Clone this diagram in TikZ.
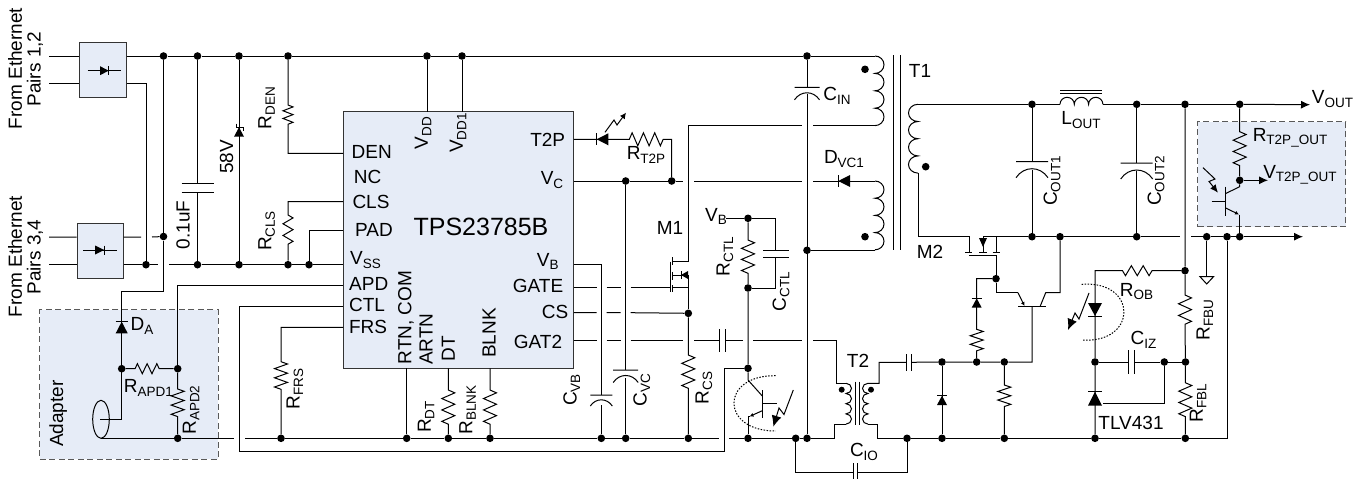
\documentclass[tikz,border=0pt]{standalone}
\usepackage{fontspec}
\setmainfont{Liberation Sans}
\usetikzlibrary{arrows.meta,decorations.pathmorphing}

\definecolor{panelblue}{HTML}{E6ECF7}
\newcommand{\sublabel}[2]{#1\raisebox{-3.5pt}{\fontsize{13.5}{13.5}\selectfont #2}}
% x, plate y, half width
\newcommand{\capcurved}[3]{
  \draw[wire] ({#1-#3},#2) -- ({#1+#3},#2)
    ({#1-#3},{#2+#3}) .. controls ({#1-#3*0.5},{#2+#3*0.25}) and ({#1+#3*0.5},{#2+#3*0.25}) .. ({#1+#3},{#2+#3});
}
% x, apex y, base y, half width
\newcommand{\diodev}[4]{
  \fill (#1,#2) -- ({#1-#4},#3) -- ({#1+#4},#3) -- cycle;
  \draw[wire] ({#1-#4},#2) -- ({#1+#4},#2);
}
% y, apex x, base x, half width
\newcommand{\diodeh}[4]{
  \fill (#2,#1) -- (#3,{#1-#4}) -- (#3,{#1+#4}) -- cycle;
  \draw[wire] (#2,{#1-#4}) -- (#2,{#1+#4});
}

\begin{document}
\begin{tikzpicture}[
  x=1pt,y=-1pt,
  >={Latex[length=9pt,width=8pt]},
  wire/.style={line width=1pt,line join=miter},
  zz/.style={decoration={zigzag,segment length=#1,amplitude=6.5pt}},
  zzs/.style={decoration={zigzag,segment length=#1,amplitude=5pt}},
  jdot/.style={circle,fill=black,inner sep=0pt,minimum size=7.6pt},
  chip/.style={draw=black!80,fill=panelblue,line width=1pt,inner sep=0pt},
  adapterbox/.style={draw=black!65,fill=panelblue,line width=1pt,dash pattern=on 6pt off 3.5pt,inner sep=0pt},
  lbl/.style={inner sep=0pt,font=\fontsize{19}{21}\selectfont},
  rotlbl/.style={lbl,rotate=90},
  bigzap/.style={line width=1pt,-{Latex[length=10pt,width=9pt]}},
  tinytip/.style={line width=1pt,-{Latex[length=4pt,width=4pt]}},
  arcdots/.style={line width=1pt,dash pattern=on 1.5pt off 1.5pt}
]
\useasboundingbox (0,0) rectangle (1361,479);

% panels
\node[chip,minimum width=47pt,minimum height=55pt] (bra) at (102.5,69.5) {};
\node[chip,minimum width=46pt,minimum height=55pt] (brb) at (100,250.5) {};
\node[chip,minimum width=229.6pt,minimum height=256.6pt] (tps) at (458.5,240) {};
\node[adapterbox,minimum width=178.3pt,minimum height=149.3pt] (adapter) at (129.1,384.6) {};
\node[adapterbox,minimum width=148pt,minimum height=105pt] (t2pout) at (1271.7,174.2) {};

% junctions
\foreach \name/\x/\y in {
  t1/163.5/56,t2/197.5/56,t3/239/56,t4/288/56,t5/427/56,t6/462/56,t7/807/56,
  n1/163.5/236.5,v0/146/264.7,v2/197.5/264.7,v3/239/264.7,v4/288/264.7,v5/309/264.7,
  a1/121.7/368.7,a2/177.7/368.7,a3/177.7/438.3,
  g1/281/438.3,g2/406.7/438.3,g3/448.3/438.3,g4/490/438.3,g5/601.3/438.3,g6/625.7/438.3,
  g7/688.3/438.3,g8/748/438.3,g9/795.7/438.3,g10/807/438.3,g11/907/438.3,g12/942/438.3,
  g13/1004.3/438.3,g14/1095/438.3,g15/1185.3/438.3,
  c1/625.7/181,c2/671.7/181,d1/688.3/313.3,
  b1/748/218.3,b2/748/288,b3/748/368.3,f1/807/250.3,
  s1/942/362,s2/976.7/362,s3/1004.3/362,m1/996/278.7,
  o1/1032/104.3,o2/1136.7/104.3,o3/1185/104.3,o4/1239.7/104.3,
  r1/1032/236.7,r2/1060/236.7,r3/1136.7/236.7,r4/1206.7/236.7,r5/1227/236.7,r6/1239.7/236.7,
  w1/1239.7/180.3,k1/1185/270.7,k2/1095/362,k3/1164.3/362,k4/1185.5/362}
  \node[jdot] (\name) at (\x,\y) {};

% pins of the controller
\foreach \p/\y in {den/153.3,cls/201.7,pad/230,vss/264.7,apd/285.7,ctl/306.7,frs/327.3}
  \coordinate (p\p) at (tps.west |- 0,\y);
\foreach \p/\y in {tp/139.3,vc/181,vb/264.3,gate/287.7,cs/312.7,gat/340.7}
  \coordinate (p\p) at (tps.east |- 0,\y);

% bridges and input
\draw[wire] (49,56) -- (bra.west |- 0,56) (bra.east |- 0,56) -- (t1) -- (t2) -- (t3) -- (t4) -- (t5) -- (t6) -- (t7) -- (875,56);
\draw[wire] (49,83.5) -- (bra.west |- 0,83.5) (bra.east |- 0,83.5) -- (146,83.5) -- (v0);
\draw[wire] (87.7,70.7) -- (121,70.7) (83.3,250) -- (116.7,250);
\diodeh{70.7}{108.7}{100}{4.5}
\diodeh{250}{104.3}{95}{4.5}
\draw[wire] (49,237) -- (brb.west |- 0,237) (brb.east |- 0,237) -- (141,237) (152,237) -- (n1);
\draw[wire] (49,264.7) -- (brb.west |- 0,264.7) (brb.east |- 0,264.7) -- (v0) -- (158,264.7) (169,264.7) -- (v2) -- (v3) -- (v4) -- (v5) -- (pvss);
\draw[wire] (t1) -- (n1) -- (163.5,291.7) -- (121.7,291.7) -- (121.7,419.3) -- (100,419.3);
\draw[wire] (t2) -- (197.5,183.3) (197.5,192.3) -- (v2);
\draw[wire] (181.7,183.3) -- (214,183.3) (181.7,192.3) -- (214,192.3);
\draw[wire] (t3) -- (v3);
\fill (239,127.3) -- (234,136.7) -- (244,136.7) -- cycle;
\draw[wire] (236,123.5) -- (236,127.3) -- (243,127.3) -- (243,131);

% controller pins, left side
\draw[wire] (t4) -- (288,105) decorate[zzs=7.7pt] {-- (288,128)} -- (288,153.3) -- (pden);
\draw[wire] (pcls) -- (288,201.7) -- (288,215) decorate[zzs=11.7pt] {-- (288,250)} -- (v4);
\draw[wire] (ppad) -- (309,230) -- (v5);
\draw[wire] (papd) -- (177.7,285.7) -- (a2);
\draw[wire] (pctl) -- (239.5,306.7) -- (239.5,451.7) -- (724,451.7) -- (724,368.3) -- (b3);
\draw[wire] (pfrs) -- (281,327.3) -- (281,361.7) decorate[zz=9.2pt] {-- (281,389.3)} -- (g1);

% adapter
\diodev{121.7}{321.7}{333.3}{6}
\draw[wire] (a1) -- (135,368.7) decorate[zzs=9.7pt] {-- (164,368.7)} -- (a2);
\draw[wire] (a2) -- (177.7,389) decorate[zz=9.2pt] {-- (177.7,416.7)} -- (a3);
\draw[wire] (101,419.3) ellipse[x radius=8.3pt,y radius=19pt];
\draw[wire] (101,438.3) -- (a3) -- (234,438.3) (245,438.3) -- (g1) -- (g2) -- (g3) -- (g4) -- (g5) -- (g6) -- (g7) -- (719,438.3) (729.3,438.3) -- (g8) -- (g9) -- (g10) -- (834,438.3) -- (834,424) -- (846,424);

% controller pins, top and bottom
\draw[wire] (t5) -- (427,111.7);
\draw[wire] (t6) -- (462,111.7);
\draw[wire] (406.7,368.3) -- (g2);
\draw[wire] (448.3,368.3) -- (448.3,390) decorate[zz=11.4pt] {-- (448.3,424.3)} -- (g3);
\draw[wire] (490,368.3) -- (490,390) decorate[zz=11.4pt] {-- (490,424.3)} -- (g4);

% controller pins, right side
\draw[wire] (ptp) -- (629.3,139.3) decorate[zz=11.3pt] {-- (663.3,139.3)} -- (671.7,139.3) -- (c2);
\diodeh{139.3}{596.7}{608.3}{6}
\draw[bigzap,-{Latex[length=6pt,width=6pt]}] (605,132.3) -- (614,120) -- (617,125) -- (626,112.7);
\draw[wire] (pvc) -- (c1) -- (c2) -- (682.7,181) (694,181) -- (801.7,181) (813,181) -- (875,181);
\diodeh{181}{838.3}{850}{6}
\draw[wire] (pvb) -- (601.3,264.3) -- (601.3,395) (601.3,405) -- (g5);
\draw[wire] (c1) -- (625.7,370) (625.7,378) -- (g6);
\capcurved{601.3}{395}{11}
\capcurved{625.7}{370}{12.5}
\draw[wire] (pgate) -- (596.7,287.7) (606.7,287.7) -- (620.7,287.7) (630.7,287.7) -- (670,287.7);
\draw[wire] (pcs) -- (596.7,312.7) (606.7,312.7) -- (620.7,312.7) (630.7,312.7) -- (d1);
\draw[wire] (pgat) -- (596.7,340.7) (606.7,340.7) -- (620.7,340.7) (630.7,340.7) -- (683,340.7) (694,340.7) -- (719.3,340.7) (725,340.7) -- (742.7,340.7) (753.3,340.7) -- (802,340.7) (813,340.7) -- (836,340.7) -- (836,383.3) -- (846,383.3);
\draw[wire] (719.3,329) -- (719.3,352) (725,329) -- (725,352);

% M1 and current sense
\draw[wire] (813,125.7) -- (875,125.7) (801.7,125.7) -- (688.3,125.7) -- (688.3,261.7) -- (672.7,261.7);
\draw[wire] (670,261.7) -- (670,291.7);
\draw[wire] (672.7,257) -- (672.7,265) (672.7,271.7) -- (672.7,280) (672.7,285) -- (672.7,292.3);
\draw[wire] (672.7,275) -- (688.3,275) (672.7,287.3) -- (688.3,287.3) (688.3,275) -- (d1);
\diodeh{275}{681}{688}{4}
\draw[wire] (d1) -- (688.3,355) decorate[zz=11.1pt] {-- (688.3,388.3)} -- (g7);

% primary side of T1
\draw[wire] (875,56) foreach \i in {1,...,4} {arc[start angle=90,end angle=-90,x radius=9pt,y radius=8.7pt]};
\draw[wire] (875,181) foreach \i in {1,...,4} {arc[start angle=90,end angle=-90,x radius=9pt,y radius=8.6pt]};
\draw[wire] (f1) -- (875,250.3);
\draw[wire] (t7) -- (807,87.3) (807,94) -- (g10);
\capcurved{807}{87.3}{12.5}
\draw[wire] (893.3,55) -- (893.3,250) (900.3,55) -- (900.3,250);
\node[jdot] (dota) at (865,69.3) {};
\node[jdot] (dotb) at (865,236.7) {};
\node[jdot] (dotc) at (925.7,166.7) {};

% V_B network and opto-transistor
\draw[wire] (726,218.3) -- (b1) -- (775.7,218.3) -- (775.7,250) (775.7,257.3) -- (775.7,288) -- (b2);
\draw[wire] (763.3,250) -- (789,250) (763.3,257.3) -- (789,257.3);
\draw[wire] (b1) -- (748,240) decorate[zz=11.1pt] {-- (748,273.3)} -- (b2) -- (b3) -- (748,380) -- (762.3,396);
\draw[wire] (762.3,390) -- (762.3,417.7) (762.3,403.3) -- (776.7,403.3);
\draw[tinytip] (762.3,410.7) -- (749.5,416.5);
\draw[wire] (749.5,416.5) -- (748,416.5) -- (g8);
\draw[arcdots] (775.7,375.7) .. controls (720,375) and (720,431) .. (775.7,431);
\draw[bigzap,-{Latex[length=11pt,width=10pt]}] (793.3,390) -- (784,414.5) -- (779,408) -- (773.3,426.7);

% T2
\draw[wire] (846,383.3) foreach \i in {1,...,4} {arc[start angle=90,end angle=-90,x radius=5.5pt,y radius=5.1pt]};
\draw[wire] (868,383.3) foreach \i in {1,...,4} {arc[start angle=90,end angle=270,x radius=5.5pt,y radius=5.1pt]};
\draw[wire] (855.7,381.7) -- (855.7,425) (859.5,381.7) -- (859.5,425);
\node[jdot,minimum size=6pt] (dotd) at (841.7,389.7) {};
\node[jdot,minimum size=6pt] (dote) at (871,389.7) {};
\draw[wire] (868,383.3) -- (879,383.3) -- (879,362.3) -- (906.7,362.3) (911,362.3) -- (s1) -- (s2) -- (s3) -- (1032,362) -- (1032,306.7);
\draw[wire] (906.7,354) -- (906.7,371) (911,354) -- (911,371);
\draw[wire] (868,424) -- (877.7,424) -- (877.7,438.3) -- (g11) -- (g12) -- (g13) -- (g14) -- (g15) -- (1227,438.3) -- (r5);
\draw[wire] (g9) -- (795.7,472.7) -- (853.3,472.7) (857.7,472.7) -- (907,472.7) -- (g11);
\draw[wire] (853.3,463) -- (853.3,479) (857.7,463) -- (857.7,479);
\draw[wire] (s1) -- (g12);
\diodev{942}{395.7}{405}{5}
\draw[wire] (s3) -- (1004.3,385) decorate[zz=8.6pt] {-- (1004.3,410.7)} -- (g13);

% M2 and clamp
\draw[wire] (918,104.3) foreach \i in {1,...,4} {arc[start angle=90,end angle=270,x radius=9.5pt,y radius=8.6pt]};
\draw[wire] (918,173) -- (918,236.7) -- (969,236.7) -- (969,252);
\draw[wire] (983,236.7) -- (r1) -- (r2) -- (r3) -- (1180,236.7) (1191,236.7) -- (r4) -- (r5) -- (r6);
\draw[wire,->] (r6) -- (1303,236.7);
\draw[wire] (983,236.7) -- (983,252) (996,236.7) -- (996,252);
\draw[wire] (965,252) -- (972.3,252) (979,252) -- (987,252) (992.7,252) -- (1000,252);
\draw[wire] (969,255) -- (996,255) -- (m1) -- (996,292.7) -- (1018,292.7);
\fill (983,247) -- (979,238) -- (987,238) -- cycle;
\draw[tinytip] (1018,292.7) -- (1024.5,306);
\draw[wire] (1018,306.7) -- (1046,306.7);
\draw[wire] (1040,306.7) -- (1045.7,292.7) -- (1060,292.7) -- (r2);
\draw[wire] (m1) -- (976.7,278.7) -- (976.7,329.3) decorate[zz=8.6pt] {-- (976.7,355)} -- (s2);
\diodev{976.7}{298.3}{307.7}{5}

% output side
\draw[wire] (918,104.3) -- (o1) -- (1060,104.3) (1103,104.3) -- (o2) -- (o3) -- (o4);
\draw[wire] (1060,104.3) foreach \i in {1,2,3} {arc[start angle=180,end angle=0,x radius=7.15pt,y radius=7pt]};
\draw[wire] (1060,90) -- (1102,90) (1060,93) -- (1102,93);
\draw[wire,->] (o4) -- (1310,104.7);
\draw[wire] (o1) -- (1032,161.7) (1032,170) -- (r1);
\capcurved{1032}{161.7}{16}
\draw[wire] (o2) -- (1136.7,163) (1136.7,171) -- (r3);
\capcurved{1136.7}{163}{16}

% optocoupler output
\draw[wire] (o4) -- (1239.7,131.7) decorate[zz=11.3pt] {-- (1239.7,165.7)} -- (w1) -- (1239.7,186.7) -- (1225.7,193.5);
\draw[wire,->] (w1) -- (1268,180.3);
\draw[wire] (1225.7,186.7) -- (1225.7,215.7) (1211.7,201.5) -- (1225.7,201.5);
\draw[tinytip] (1225.7,208) -- (1239,214.5);
\draw[wire] (1239.7,214.5) -- (r6);
\draw[bigzap,-{Latex[length=8pt,width=7pt]}] (1203,167.7) -- (1215,179) -- (1209,181.5) -- (1218,192.7);

% feedback
\draw[wire] (o3) -- (k1) -- (1185,295) decorate[zz=11.7pt] {-- (1185,330)} -- (k4) -- (1185.3,382.7) decorate[zz=11.3pt] {-- (1185.3,416.7)} -- (g15);
\draw[wire] (r4) -- (1206.7,276.7);
\draw[wire] (1206.7,284) -- (1200,276.7) -- (1213.5,276.7) -- cycle;
\draw[wire] (k1) -- (1152,270.7) decorate[zzs=11.8pt] {-- (1116.7,270.7)} -- (1095,270.7) -- (k2) -- (g14);
\diodev{1095}{316}{303}{7}
\diodev{1095}{391.7}{405.7}{7}
\draw[arcdots] (1081.7,284.3) .. controls (1138,280) and (1138,344) .. (1081.7,340);
\draw[bigzap,-{Latex[length=11pt,width=10pt]}] (1089,293) -- (1079,319) -- (1075,313) -- (1068,330);
\draw[wire] (k2) -- (1128.3,362) (1134.3,362) -- (k3) -- (k4);
\draw[wire] (1128.3,350) -- (1128.3,374) (1134.3,350) -- (1134.3,374);
\draw[wire] (k3) -- (1164.3,403) -- (1102.7,403);

% labels
\node[rotlbl] (ethpa) at (15,68.5) {From Ethernet};
\node[rotlbl] (ethpb) at (35,69) {Pairs 1,2};
\node[rotlbl] (ethqa) at (15,256.5) {From Ethernet};
\node[rotlbl] (ethqb) at (35,257) {Pairs 3,4};
\node[rotlbl] (ccap) at (183,225) {0.1uF};
\node[rotlbl] (zlab) at (226.7,156.7) {58V};
\node[rotlbl] (rden) at (266.7,108) {\sublabel{R}{DEN}};
\node[rotlbl] (rcls) at (266.7,231) {\sublabel{R}{CLS}};
\node[rotlbl] (adlab) at (58.3,413.7) {Adapter};
\node[lbl] (dalab) at (142,326) {\sublabel{D}{A}};
\node[lbl] (rapa) at (148.3,388) {\sublabel{R}{APD1}};
\node[rotlbl] (rapb) at (191,410) {\sublabel{R}{APD2}};
\node[rotlbl] (rfrs) at (295,389) {\sublabel{R}{FRS}};

\node[lbl,font=\fontsize{25}{27}\selectfont] (tpsname) at (481,226.7) {TPS23785B};
\node[rotlbl] (lvdd) at (423,133) {\sublabel{V}{DD}};
\node[rotlbl] (lvdda) at (458,133) {\sublabel{V}{DD1}};
\node[lbl] (ldn) at (371.7,152) {DEN};
\node[lbl] (lnc) at (367.7,177) {NC};
\node[lbl] (lcls) at (371,201.7) {CLS};
\node[lbl] (lpad) at (374,230) {PAD};
\node[lbl] (lvss) at (365.5,260) {\sublabel{V}{SS}};
\node[lbl] (lapd) at (368.7,284.3) {APD};
\node[lbl] (lctl) at (367,305) {CTL};
\node[lbl] (lfrs) at (368,326.7) {FRS};
\node[lbl] (ltp) at (547.7,140) {T2P};
\node[lbl] (lvc) at (552,180) {\sublabel{V}{C}};
\node[lbl] (lvb) at (547.7,261.7) {\sublabel{V}{B}};
\node[lbl] (lgate) at (538,286) {GATE};
\node[lbl] (lcs) at (555,311.7) {CS};
\node[lbl] (lgat) at (538,341.7) {GAT2};
\node[rotlbl] (lrtn) at (406,317.5) {RTN, COM};
\node[rotlbl] (lartn) at (426,339) {ARTN};
\node[rotlbl] (ldt) at (448.3,349) {DT};
\node[rotlbl] (lblnk) at (489,333) {BLNK};

\node[rotlbl] (rdt) at (426,417) {\sublabel{R}{DT}};
\node[rotlbl] (rblnk) at (467.7,410) {\sublabel{R}{BLNK}};
\node[rotlbl] (cvb) at (571.7,390) {\sublabel{C}{VB}};
\node[rotlbl] (cvc) at (641.7,390) {\sublabel{C}{VC}};
\node[lbl] (rtp) at (646,155) {\sublabel{R}{T2P}};
\node[lbl] (mone) at (670,228.3) {M1};
\node[rotlbl] (rcs) at (704,388) {\sublabel{R}{CS}};
\node[lbl] (vbb) at (716,216.7) {\sublabel{V}{B}};
\node[rotlbl] (rctl) at (725,256.7) {\sublabel{R}{CTL}};
\node[rotlbl] (cctl) at (781,291.7) {\sublabel{C}{CTL}};
\node[lbl] (cin) at (837,95.7) {\sublabel{C}{IN}};
\node[lbl] (dvc) at (844,159) {\sublabel{D}{VC1}};
\node[lbl] (tone) at (920,70.7) {T1};
\node[lbl] (ttwo) at (858,361) {T2};
\node[lbl] (cio) at (864,452) {\sublabel{C}{IO}};
\node[lbl] (mtwo) at (930,252.3) {M2};
\node[rotlbl] (coa) at (1052,181) {\sublabel{C}{OUT1}};
\node[rotlbl] (cob) at (1156,181) {\sublabel{C}{OUT2}};
\node[lbl] (lout) at (1081,120) {\sublabel{L}{OUT}};
\node[lbl] (vout) at (1332.5,99) {\sublabel{V}{OUT}};
\node[lbl] (rtpo) at (1290,138) {\sublabel{R}{T2P\_OUT}};
\node[lbl] (vtpo) at (1300,175) {\sublabel{V}{T2P\_OUT}};
\node[lbl] (rob) at (1136.5,291.5) {\sublabel{R}{OB}};
\node[lbl] (ciz) at (1143.5,340) {\sublabel{C}{IZ}};
\node[lbl] (tlv) at (1131,422.7) {TLV431};
\node[rotlbl] (rfbu) at (1205,320) {\sublabel{R}{FBU}};
\node[rotlbl] (rfbl) at (1198,403) {\sublabel{R}{FBL}};

\end{tikzpicture}
\end{document}
